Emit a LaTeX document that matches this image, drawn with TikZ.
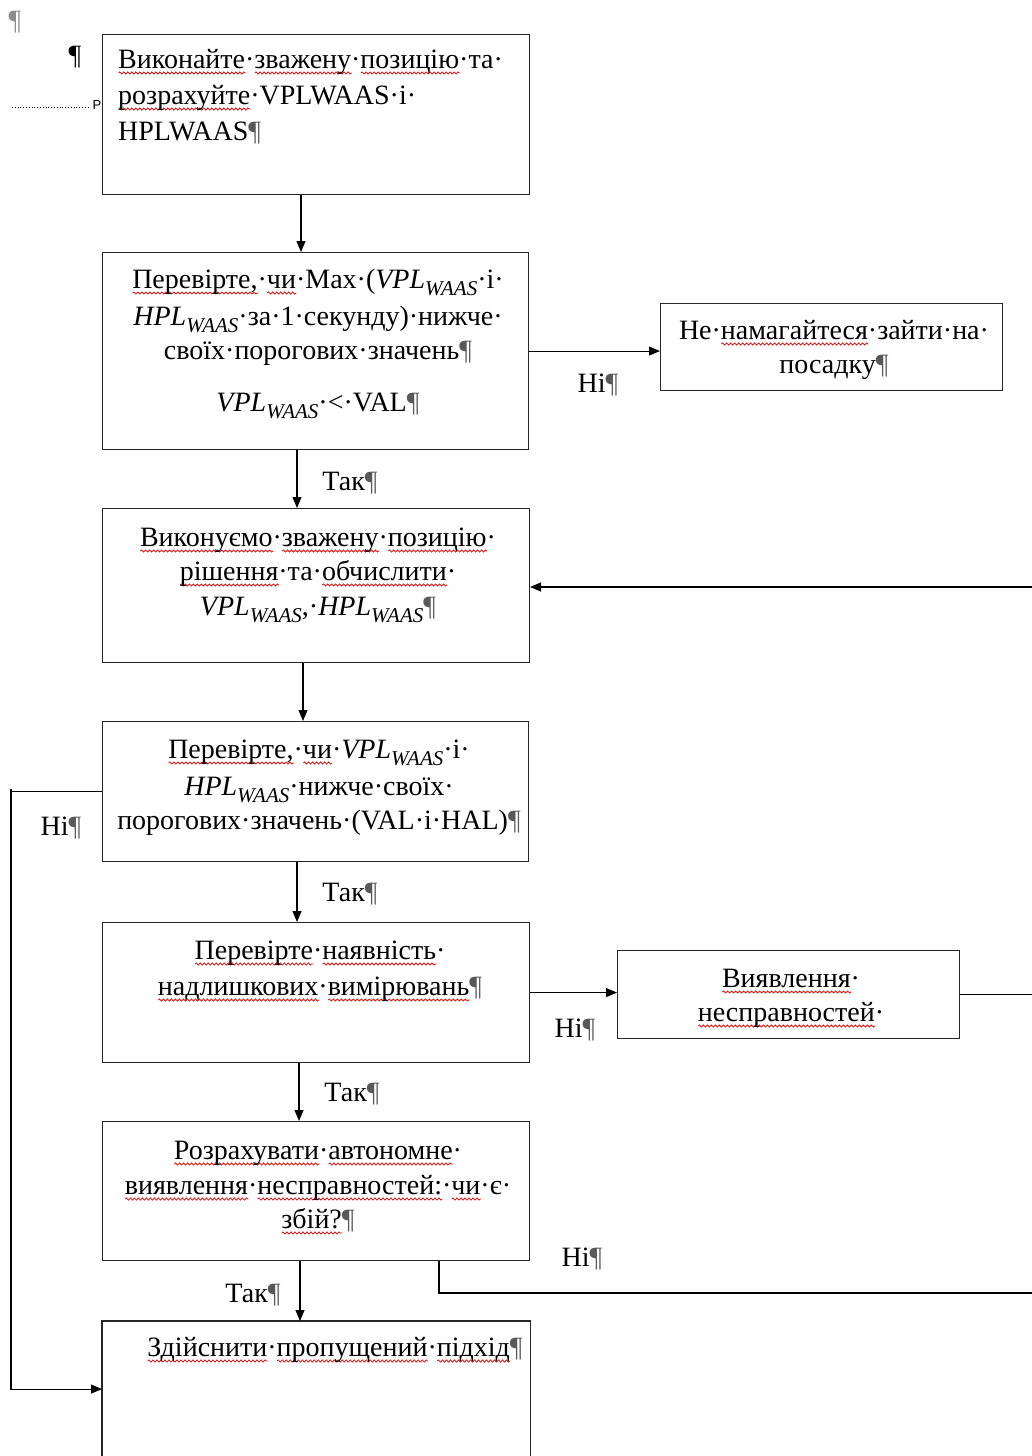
\documentclass[tikz,border=0pt]{standalone}
\usepackage{fontspec}
\setmainfont{Liberation Serif}
\setsansfont{Liberation Sans}
\usetikzlibrary{arrows.meta,decorations.pathmorphing}
\newdimen\sqw
\newcommand\sq[1]{\leavevmode\setbox0\hbox{#1}\global\sqw=\wd0\rlap{\tikz[x=1pt,y=1pt,baseline=0pt]\draw[red!85!black,line width=0.7pt,decorate,decoration={snake,amplitude=1.1pt,segment length=4pt}] (0,-5) -- (\the\sqw,-5);}\box0}
\newcommand\pil{{\color{black!65}¶}}
\newcommand\ws[2]{\textit{#1}\raisebox{-7pt}{\fontsize{21}{21}\selectfont\textit{#2}}}
\newcommand\cbox[1]{\parbox[t]{500pt}{\centering #1}}
\begin{document}
\begin{tikzpicture}[x=1pt,y=-1pt,
  box/.style={draw=black!85, line width=1.1pt, anchor=north west, inner sep=0},
  txt/.style={inner sep=0, anchor=base, font=\fontsize{28}{35}\selectfont},
  lbl/.style={inner sep=0, anchor=base, font=\fontsize{28}{35}\selectfont},
  arr/.style={line width=1.1pt, -{Triangle[length=11pt,width=9pt]}},
  ln/.style={line width=1.1pt}]
\useasboundingbox (0,0) rectangle (1032,1456);

% Word formatting marks at the top left
\node[txt, text=black!45] (m1) at (15,29) {¶};
\node[txt] (m2) at (75,64) {¶};
\coordinate (dl) at (12,107);
\coordinate (dr) at (90,107);
\draw[dotted, line width=0.8pt] (dl) -- (dr);
\node[inner sep=0, font=\sffamily\fontsize{13}{13}\selectfont] (pm) at (97,105) {P};

% boxes
\node[box, minimum width=427, minimum height=160] (A) at (102,34) {};
\node[box, minimum width=426, minimum height=197] (B) at (102,252) {};
\node[box, minimum width=342, minimum height=87] (C) at (660,303) {};
\node[box, minimum width=427, minimum height=154] (D) at (102,508) {};
\node[box, minimum width=426, minimum height=140] (E) at (102,721) {};
\node[box, minimum width=427, minimum height=140] (F) at (102,922) {};
\node[box, minimum width=342, minimum height=88] (G) at (617,950) {};
\node[box, minimum width=427, minimum height=139] (H) at (102,1121) {};
\node[box, draw=none, minimum width=427, minimum height=135] (I) at (102,1321) {};
\draw[ln, draw=black!85] (I.south west) |- (I.north east) -- (I.south east);

% texts
\node[txt, anchor=base west] (At) at (118,68) {\parbox[t]{420pt}{\raggedright
\sq{Виконайте}·\sq{зважену}·\sq{позицію}·та·\\[1pt]
\sq{розрахуйте}·VPLWAAS·і·\\[1pt]
HPLWAAS\pil}};

\node[txt] (Bt) at (318,288) {\cbox{%
\sq{Перевірте,}·\sq{чи}·Max·(\ws{VPL}{WAAS}·і·\\[2pt]
\ws{HPL}{WAAS}·за·1·секунду)·нижче·\\[-1pt]
своїх·порогових·значень\pil\\[17pt]
\ws{VPL}{WAAS}·<·VAL\pil}};

\node[txt] (Ct) at (834,339) {\cbox{%
Не·\sq{намагайтеся}·зайти·на·\\[-1pt]
посадку\pil}};

\node[txt] (Dt) at (318,546) {\cbox{%
\sq{Виконуємо}·\sq{зважену}·\sq{позицію}·\\[-1pt]
\sq{рішення}·та·\sq{обчислити}·\\
\ws{VPL}{WAAS},·\ws{HPL}{WAAS}\pil}};

\node[txt] (Et) at (319,758) {\cbox{%
\sq{Перевірте,}·\sq{чи}·\ws{VPL}{WAAS}·і·\\[2pt]
\ws{HPL}{WAAS}·нижче·своїх·\\[-1pt]
порогових·значень·(VAL·і·HAL)\pil}};

\node[txt] (Ft) at (320,959) {\cbox{%
\sq{Перевірте}·\sq{наявність}·\\[1pt]
\sq{надлишкових}·\sq{вимірювань}\pil}};

\node[txt] (Gt) at (791,987) {\cbox{%
\sq{Виявлення}·\\[-1pt]
\sq{несправностей}·}};

\node[txt] (Ht) at (318,1159) {\cbox{%
\sq{Розрахувати}·\sq{автономне}·\\
\sq{виявлення}·\sq{несправностей:}·\sq{чи}·є·\\[-1pt]
\sq{збій?}\pil}};

\node[txt] (It) at (335,1356) {\cbox{%
\sq{Здійснити}·\sq{пропущений}·\sq{підхід}\pil}};

% edge coordinates at the right border
\coordinate (rD) at (1032,587);
\coordinate (rG) at (1032,996);
\coordinate (rH) at (1032,1293);
\coordinate (hx) at (439,1293);
\coordinate (lx) at (11,789);

% connectors
\draw[arr] (301,0 |- A.south) -- (301,0 |- B.north);
\draw[arr] (B.east) -- (B.east -| C.west);
\draw[arr] (297,0 |- B.south) -- (297,0 |- D.north);
\draw[arr] (rD) -- (rD -| D.east);
\draw[arr] (303,0 |- D.south) -- (303,0 |- E.north);
\draw[arr] (E.west) -| (lx) |- (I.west);
\draw[arr] (297,0 |- E.south) -- (297,0 |- F.north);
\draw[arr] (F.east) -- (F.east -| G.west);
\draw[ln] (G.east) -- (G.east -| rG);
\draw[arr] (299,0 |- F.south) -- (299,0 |- H.north);
\draw[arr] (300,0 |- H.south) -- (300,0 |- I.north);
\draw[ln] (hx |- H.south) -- (hx) -- (rH);

% connector labels
\node[lbl] (n1) at (598,392) {Ні\pil};
\node[lbl] (y1) at (350,490) {Так\pil};
\node[lbl] (n2) at (61,835) {Ні\pil};
\node[lbl] (y2) at (350,901) {Так\pil};
\node[lbl] (n3) at (575,1037) {Ні\pil};
\node[lbl] (y3) at (352,1101) {Так\pil};
\node[lbl] (n4) at (582,1266) {Ні\pil};
\node[lbl] (y4) at (253,1302) {Так\pil};
\end{tikzpicture}
\end{document}
